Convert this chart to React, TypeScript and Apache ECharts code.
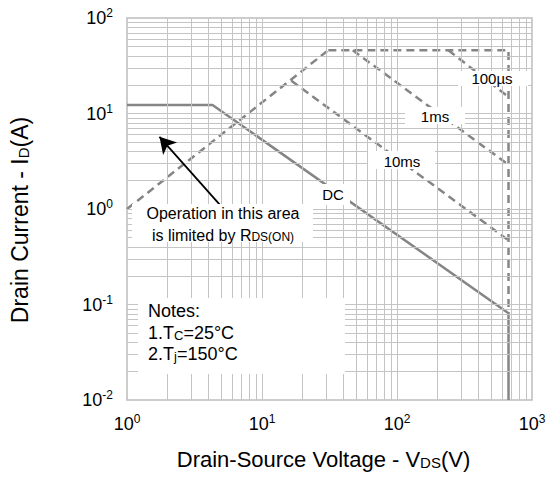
import React, { useEffect, useRef } from "react";
import * as echarts from "echarts";

const FONT = "Liberation Sans, Arial, sans-serif";

// Grid line positions (log axes, minor 2..9 per decade)
const xGridValues = [2, 3, 4, 5, 6, 7, 8, 9, 10, 20, 30, 40, 50, 60, 70, 80, 90, 100, 200, 300, 400, 500, 600, 700, 800, 900];
const yGridValues = [0.02, 0.03, 0.04, 0.05, 0.06, 0.07, 0.08, 0.09, 0.1, 0.2, 0.3, 0.4, 0.5, 0.6, 0.7, 0.8, 0.9, 1, 2, 3, 4, 5, 6, 7, 8, 9, 10, 20, 30, 40, 50, 60, 70, 80, 90];

// SOA curves [V_DS, I_D]
const rdsLimit = [[1, 1], [31, 46]];
const pulseEnvelope = [[31, 46], [670, 46], [670, 0.081]];
const pulse100us = [[240, 46], [670, 14.9]];
const pulse1ms = [[47, 46], [670, 2.9]];
const pulse10ms = [[16.5, 22], [670, 0.47]];
const dcCurve = [[1, 12.3], [4.3, 12.3], [670, 0.081], [670, 0.01]];
const arrowFrom = [4.9, 1.1];
const arrowTo = [1.74, 5.7];

const curveColor = "#858585";
const gridColor = "#c4c4c4";

function sup(v: number) {
  const e = Math.round(Math.log10(v));
  return `{b|10}{s|${e}}`;
}

export default function App() {
  const ref = useRef<HTMLDivElement>(null);
  useEffect(() => {
    if (!ref.current) return;
    const chart = echarts.init(ref.current, undefined, { renderer: "svg" });
    const labelRich = {
      b: { fontSize: 18, fontFamily: FONT, color: "#000", lineHeight: 22 },
      s: { fontSize: 12, fontFamily: FONT, color: "#000", lineHeight: 10, verticalAlign: "top" },
    };
    const dashed = (data: number[][]) => ({
      type: "line",
      data,
      symbol: "none",
      silent: true,
      lineStyle: { color: curveColor, width: 2.5, type: [8, 5] },
    });
    const textRich = {
      sub: { fontSize: 12, fontFamily: FONT, fill: "#000", lineHeight: 8, verticalAlign: "bottom" },
    };
    const noteRich = {
      sub: { fontSize: 13, fontFamily: FONT, fill: "#000", lineHeight: 8, verticalAlign: "bottom" },
    };
    chart.setOption({
      animation: false,
      grid: { left: 120, top: 18, width: 412, height: 382, show: true, borderColor: "#bdbdbd", borderWidth: 1.5, backgroundColor: "transparent" },
      xAxis: {
        type: "log",
        logBase: 10,
        min: 1,
        max: 1000,
        axisLine: { show: false },
        axisTick: { show: false },
        splitLine: { show: false },
        axisLabel: { formatter: sup, rich: labelRich, margin: 13 },
        name: "Drain-Source Voltage - V{sub|DS}(V)",
        nameLocation: "middle",
        nameGap: 48,
        nameTextStyle: {
          fontSize: 22,
          fontFamily: FONT,
          color: "#000",
          padding: [0, 12, 0, 0],
          rich: { sub: { fontSize: 15, fontFamily: FONT, color: "#000", lineHeight: 10, verticalAlign: "bottom" } },
        },
      },
      yAxis: {
        type: "log",
        logBase: 10,
        min: 0.01,
        max: 100,
        axisLine: { show: false },
        axisTick: { show: false },
        splitLine: { show: false },
        axisLabel: { formatter: sup, rich: labelRich, margin: 14 },
        name: "Drain Current - I{sub|D}(A)",
        nameLocation: "middle",
        nameGap: 96,
        nameTextStyle: {
          fontSize: 23,
          fontFamily: FONT,
          color: "#000",
          padding: [0, 22, 0, 0],
          rich: { sub: { fontSize: 15, fontFamily: FONT, color: "#000", lineHeight: 10, verticalAlign: "bottom" } },
        },
      },
      series: [
        {
          type: "line",
          data: [[1, 0.01]],
          symbol: "none",
          silent: true,
          markLine: {
            silent: true,
            symbol: "none",
            animation: false,
            label: { show: false },
            lineStyle: { color: gridColor, width: 1, type: "solid" },
            data: [
              ...xGridValues.map((v) => ({ xAxis: v })),
              ...yGridValues.map((v) => ({ yAxis: v })),
            ],
          },
        },
        dashed(rdsLimit),
        dashed(pulseEnvelope),
        dashed(pulse100us),
        dashed(pulse1ms),
        dashed(pulse10ms),
        {
          type: "line",
          data: dcCurve,
          symbol: "none",
          silent: true,
          lineStyle: { color: curveColor, width: 2.5 },
        },
        {
          type: "line",
          data: [],
          symbol: "none",
          silent: true,
          markLine: {
            silent: true,
            symbol: ["none", "arrow"],
            symbolSize: [14, 16],
            animation: false,
            label: { show: false },
            lineStyle: { color: "#000", width: 1.8, type: "solid" },
            data: [[{ coord: arrowFrom }, { coord: arrowTo }]],
          },
        },
      ],
      graphic: [
        { type: "rect", z: 100, shape: { x: 458, y: 71, width: 70, height: 15 }, style: { fill: "#fff" } },
        { type: "rect", z: 100, shape: { x: 405, y: 107, width: 60, height: 17 }, style: { fill: "#fff" } },
        { type: "rect", z: 100, shape: { x: 368, y: 151, width: 67, height: 18 }, style: { fill: "#fff" } },
        { type: "rect", z: 100, shape: { x: 315, y: 184, width: 35, height: 21 }, style: { fill: "#fff" } },
        { type: "rect", z: 100, shape: { x: 132, y: 204, width: 181, height: 38 }, style: { fill: "#fff" } },
        { type: "rect", z: 100, shape: { x: 138, y: 298, width: 207, height: 76 }, style: { fill: "#fff" } },
        { type: "text", z: 101, style: { text: "100µs", x: 492, y: 78, font: `15px ${FONT}`, fill: "#000", align: "center", verticalAlign: "middle" } },
        { type: "text", z: 101, style: { text: "1ms", x: 435, y: 116, font: `15px ${FONT}`, fill: "#000", align: "center", verticalAlign: "middle" } },
        { type: "text", z: 101, style: { text: "10ms", x: 402, y: 161, font: `15px ${FONT}`, fill: "#000", align: "center", verticalAlign: "middle" } },
        { type: "text", z: 101, style: { text: "DC", x: 333, y: 194, font: `15px ${FONT}`, fill: "#000", align: "center", verticalAlign: "middle" } },
        { type: "text", z: 101, style: { text: "Operation in this area", x: 223, y: 213, font: `16px ${FONT}`, fill: "#000", align: "center", verticalAlign: "middle" } },
        { type: "text", z: 101, style: { text: "is limited by R{sub|DS(ON)}", x: 223, y: 235, font: `16px ${FONT}`, fill: "#000", align: "center", verticalAlign: "middle", rich: textRich } },
        { type: "text", z: 101, style: { text: "Notes:", x: 148, y: 311, font: `18px ${FONT}`, fill: "#000", align: "left", verticalAlign: "middle" } },
        { type: "text", z: 101, style: { text: "1.T{sub|C}=25°C", x: 148, y: 333, font: `18px ${FONT}`, fill: "#000", align: "left", verticalAlign: "middle", rich: noteRich } },
        { type: "text", z: 101, style: { text: "2.T{sub|j}=150°C", x: 148, y: 354, font: `18px ${FONT}`, fill: "#000", align: "left", verticalAlign: "middle", rich: noteRich } },
      ],
    });
    return () => chart.dispose();
  }, []);
  return <div ref={ref} style={{ width: 550, height: 483, position: "absolute", left: 0, top: 0 }} />;
}
